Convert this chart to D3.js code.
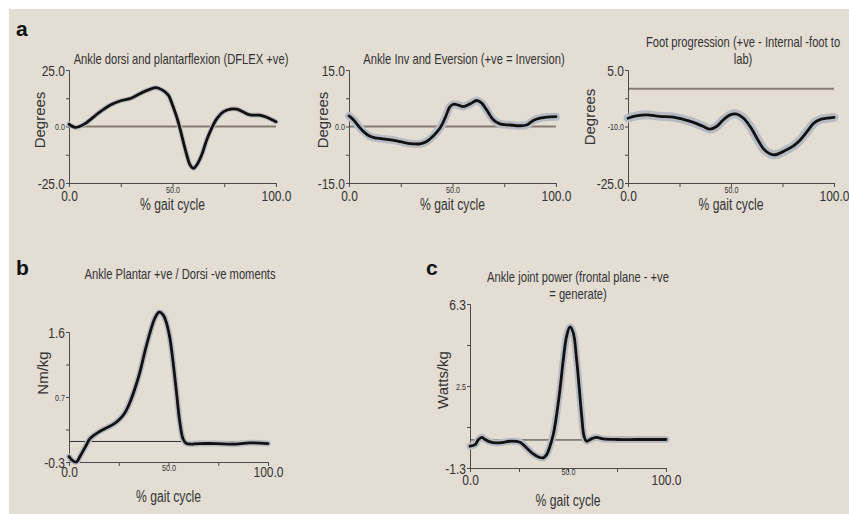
<!DOCTYPE html>
<html>
<head>
<meta charset="utf-8">
<script src="https://cdn.jsdelivr.net/npm/d3@7"></script>
<style>
  body { margin: 0; background: #fff; }
  text { font-family: "Liberation Sans", Arial, sans-serif; fill: #333; }
  .panel-letter { font-weight: bold; fill: #111; }
</style>
</head>
<body>
<div id="chart-container"></div>
<script>
// % gait cycle vs value
const dorsiPlantar = [[0,1.0],[3,-0.4],[5,0],[8,1.4],[12,4.3],[15,6.5],[20,9.5],[25,11.4],[30,12.5],[34,14.4],[39,16.4],[42,17.2],[45,16.2],[48,13.9],[50,9.5],[52,4.3],[53.6,-0.8],[55.2,-6.7],[56.9,-12.6],[58.5,-17],[60.2,-18.5],[61.7,-17],[64.1,-12.6],[66.5,-6],[68.9,-0.8],[71.5,3.6],[74.5,6.5],[78,7.7],[81,7.7],[84,6.5],[87.5,5.1],[92,5],[95.5,4.1],[100,2.1]];
const invEversion = [[0,2.8],[2.1,1.8],[4.5,0.2],[6.9,-1.3],[10.1,-2.6],[13.4,-3.1],[18.2,-3.4],[23,-3.8],[27.9,-4.4],[31.1,-4.6],[34.3,-4.6],[37.5,-4.0],[40.7,-2.5],[44,-0.4],[46.4,2.2],[48.8,5.3],[50.4,5.9],[52.8,5.7],[55.2,5.3],[58.5,6.0],[61.7,6.9],[64.1,6.2],[66.5,4.4],[69.7,1.8],[72.9,0.7],[77.8,0.4],[82.6,0.2],[85.8,0.4],[89,1.6],[92.3,2.2],[95.5,2.5],[100,2.6]];
const footProgression = [[0,-7.8],[4,-7.2],[9,-6.9],[15.4,-7.3],[22,-7.5],[26.8,-8.1],[31.7,-8.9],[36.6,-10],[39.8,-10.7],[43,-10],[46.3,-8.2],[49.6,-6.9],[52.8,-6.7],[56.1,-7.8],[59.3,-10],[62.6,-13.1],[65.9,-16],[69.1,-17.3],[71.5,-17.5],[75.6,-16.6],[80.5,-15.1],[83.7,-13.5],[87,-11.3],[90.2,-9.1],[93.5,-8.1],[96.7,-7.8],[100,-7.6]];
const ankleMoment = [[0,-0.22],[1.8,-0.28],[3.8,-0.3],[5.5,-0.22],[8,-0.09],[10.5,0.04],[13,0.10],[15.6,0.15],[18.9,0.20],[22.2,0.25],[25.6,0.33],[28.1,0.42],[30.6,0.57],[33.1,0.77],[35.6,1.01],[38.1,1.31],[40.6,1.58],[43.1,1.80],[45.3,1.89],[47.3,1.85],[49,1.73],[50.7,1.51],[52.3,1.16],[54,0.72],[55.7,0.28],[57.4,0.03],[59,-0.03],[65.7,-0.03],[74,-0.03],[82.4,-0.04],[90.8,-0.02],[100,-0.03]];
const anklePower = [[0,-0.29],[2.6,-0.22],[4.3,0.02],[6,0.12],[7.7,0.02],[10.2,-0.09],[13.6,-0.14],[17,-0.11],[20.4,-0.06],[25.5,-0.11],[28.9,-0.37],[32.3,-0.65],[34.9,-0.79],[37.4,-0.83],[39.1,-0.68],[40.8,-0.29],[42.5,0.25],[44.2,1.17],[45.9,2.33],[47.6,3.72],[49.3,4.81],[51,5.24],[52.7,4.96],[54.4,3.72],[55.8,2.33],[57,1.10],[58.2,0.17],[59.5,-0.06],[62.1,0.06],[64.6,0.12],[68,0.05],[74.8,0.02],[85,0.02],[100,0.02]];

const xDomain = [0, 100];
const xTicks = [0, 25, 50, 75, 100];
const xTickLabels = ["0.0", "", "50.0", "", "100.0"];

const dorsiDomain = [-25, 25];
const dorsiTickLabels = ["-25.0", "", "0.0", "", "25.0"];
const invDomain = [-15, 15];
const invTickLabels = ["-15.0", "", "0.0", "", "15.0"];
const footDomain = [-25, 5];
const footTickLabels = ["-25.0", "", "-10.0", "", "5.0"];
const momentDomain = [-0.3, 1.6];
const momentTickLabels = ["-0.3", "", "0.7", "", "1.6"];
const powerDomain = [-1.3, 6.3];
const powerTickLabels = ["-1.3", "", "2.5", "", "6.3"];

const w = 849, h = 514;

// squeeze text horizontally (no narrow font installed)
function narrow(sel, k) {
  sel.each(function() {
    const t = d3.select(this);
    const x = +t.attr("x") || 0, y = +t.attr("y") || 0;
    t.attr("x", 0).attr("y", 0)
     .attr("transform", "translate(" + x + "," + y + ") scale(" + k + ",1)");
  });
}

const svg = d3.select("#chart-container").append("svg")
  .attr("width", w).attr("height", h);

svg.append("rect").attr("width", w).attr("height", h).attr("fill", "#fff");
svg.append("rect").attr("x", 9).attr("y", 9).attr("width", w - 9).attr("height", h - 9)
  .attr("fill", "#e3ddd4");

const panels = [
  { data: dorsiPlantar, dom: dorsiDomain, labels: dorsiTickLabels, x0: 69, x1: 276, y0: 70, y1: 183,
    title: ["Ankle dorsi and plantarflexion (DFLEX +ve)"], tx: 181, ty: 64, yTitle: "Degrees", yx: 40, yy: 120,
    band: 5, ref: "thick", lblDy: 13, midDy: 7, xtDy: 22 },
  { data: invEversion, dom: invDomain, labels: invTickLabels, x0: 349, x1: 556, y0: 70, y1: 183,
    title: ["Ankle Inv and Eversion (+ve = Inversion)"], tx: 464, ty: 64, yTitle: "Degrees", yx: 323, yy: 120,
    band: 8, ref: "thick", lblDy: 13, midDy: 7, xtDy: 22 },
  { data: footProgression, dom: footDomain, labels: footTickLabels, x0: 628, x1: 834, y0: 70, y1: 183,
    title: ["Foot progression (+ve - Internal -foot to", "lab)"], tx: 743, ty: 47, yTitle: "Degrees", yx: 590, yy: 117,
    band: 9, ref: "thick", lblDy: 13, midDy: 7, xtDy: 22 },
  { data: ankleMoment, dom: momentDomain, labels: momentTickLabels, x0: 69, x1: 268, y0: 332, y1: 462,
    title: ["Ankle Plantar +ve / Dorsi -ve moments"], tx: 180, ty: 279, yTitle: "Nm/kg", yx: 43, yy: 373,
    band: 6, ref: "thin", lblDy: 10, midDy: 6, xtDy: 35 },
  { data: anklePower, dom: powerDomain, labels: powerTickLabels, x0: 470, x1: 666, y0: 304, y1: 468,
    title: ["Ankle joint power (frontal plane - +ve", "= generate)"], tx: 578, ty: 282, yTitle: "Watts/kg", yx: 443, yy: 380,
    band: 7, ref: "thin", lblDy: 12, midDy: 4, xtDy: 33 }
];

panels.forEach(function(p) {
  const xScale = d3.scaleLinear().domain(xDomain).range([p.x0, p.x1]);
  const yScale = d3.scaleLinear().domain(p.dom).range([p.y1, p.y0]);
  const g = svg.append("g");

  // zero reference line
  g.append("line")
    .attr("x1", p.x0).attr("x2", p.x1)
    .attr("y1", yScale(0)).attr("y2", yScale(0))
    .attr("stroke", p.ref == "thick" ? "#857b72" : "#333")
    .attr("stroke-width", p.ref == "thick" ? 2 : 1);

  const yTicks = d3.range(5).map(i => p.dom[0] + i * (p.dom[1] - p.dom[0]) / 4);

  const yAxis = g.append("g").attr("transform", "translate(" + p.x0 + ",0)")
    .call(d3.axisLeft(yScale).tickValues(yTicks).tickSize(3).tickPadding(1)
      .tickFormat((d, i) => p.labels[i]));
  const xAxis = g.append("g").attr("transform", "translate(0," + p.y1 + ")")
    .call(d3.axisBottom(xScale).tickValues(xTicks).tickSize(4).tickPadding(0)
      .tickFormat((d, i) => xTickLabels[i]));

  [yAxis, xAxis].forEach(function(ax) {
    ax.select(".domain").attr("stroke", "#4a4a4a");
    ax.selectAll(".tick line").attr("stroke", "#4a4a4a");
    ax.selectAll(".tick text").attr("fill", "#333");
  });
  yAxis.selectAll(".tick text")
    .style("font-size", (d, i) => i == 2 ? "9px" : "15px")
    .attr("dy", "0.35em");
  xAxis.selectAll(".tick text")
    .style("font-size", (d, i) => i == 2 ? "9px" : "15px")
    .attr("y", (d, i) => i == 2 ? p.midDy : p.lblDy)
    .attr("dy", "0.35em");
  narrow(yAxis.selectAll(".tick text"), 0.8);
  narrow(xAxis.selectAll(".tick text"), 0.8);

  // sd band then mean curve
  const line = d3.line().x(d => xScale(d[0])).y(d => yScale(d[1])).curve(d3.curveCatmullRom);
  g.append("path").datum(p.data).attr("d", line)
    .attr("fill", "none").attr("stroke", "#b7bcc3").attr("stroke-width", p.band)
    .attr("stroke-linejoin", "round").attr("stroke-linecap", "round");
  g.append("path").datum(p.data).attr("d", line)
    .attr("fill", "none").attr("stroke", "#111").attr("stroke-width", 2.8)
    .attr("stroke-linejoin", "round").attr("stroke-linecap", "round");

  // titles
  p.title.forEach(function(t, i) {
    g.append("text").attr("class", "title").attr("x", p.tx).attr("y", p.ty + i * 17)
      .attr("text-anchor", "middle").style("font-size", "14px").text(t);
  });
  narrow(g.selectAll(".title"), 0.8);

  const xt = g.append("text").attr("text-anchor", "middle")
    .attr("x", (p.x0 + p.x1) / 2).attr("y", p.y1 + p.xtDy + 5)
    .style("font-size", "16px").text("% gait cycle");
  narrow(xt, 0.76);

  g.append("text").attr("text-anchor", "middle")
    .attr("transform", "translate(" + p.yx + "," + p.yy + ") rotate(-90)")
    .attr("dy", "0.35em").style("font-size", "15px").text(p.yTitle);
});

// panel letters
svg.append("text").attr("class", "panel-letter").attr("x", 16).attr("y", 36).style("font-size", "21px").text("a");
svg.append("text").attr("class", "panel-letter").attr("x", 16).attr("y", 275).style("font-size", "21px").text("b");
svg.append("text").attr("class", "panel-letter").attr("x", 426).attr("y", 275).style("font-size", "21px").text("c");
</script>
</body>
</html>
